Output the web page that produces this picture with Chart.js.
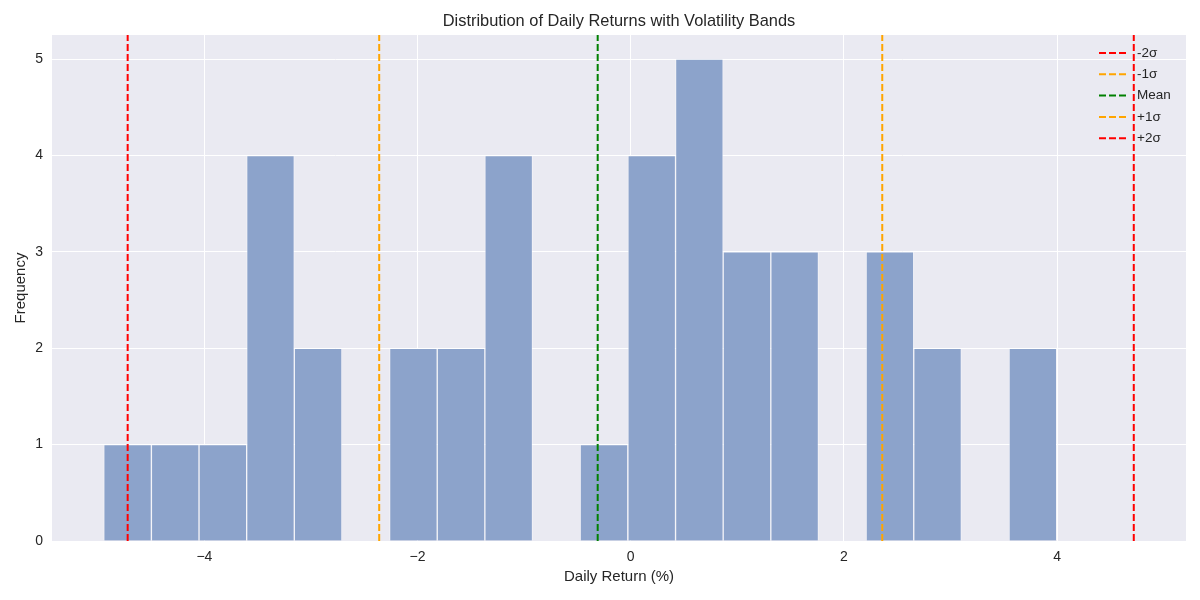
<!DOCTYPE html>
<html>
<head>
<meta charset="utf-8">
<script src="https://cdn.jsdelivr.net/npm/chart.js@4/dist/chart.umd.min.js"></script>
<style>
  body { margin: 0; background: #fff; }
  #wrap { width: 1200px; height: 600px; }
</style>
</head>
<body>
<div id="wrap"><canvas id="grafica" width="1200" height="600"></canvas></div>
<script>
// histogram bins (centres, %) and counts
var binCenters = [-4.721, -4.274, -3.827, -3.380, -2.933, -2.486, -2.039, -1.592, -1.145, -0.698,
                  -0.251, 0.197, 0.644, 1.091, 1.538, 1.985, 2.432, 2.879, 3.326, 3.773];
var binCounts  = [1, 1, 1, 4, 2, 0, 2, 2, 4, 0,
                  1, 4, 5, 3, 3, 0, 3, 2, 0, 2];

// volatility bands
var bandLabels = ["-2σ", "-1σ", "Mean", "+1σ", "+2σ"];
var bandValues = [-4.72, -2.36, -0.31, 2.36, 4.72];
var bandColors = ["#ff0000", "#ffa500", "#008000", "#ffa500", "#ff0000"];

var xTicks = [-4, -2, 0, 2, 4];
var yTicks = [0, 1, 2, 3, 4, 5];

var xMin = -5.43, xMax = 5.21, yMax = 5.25;
var txt = "#262626";
var fuente = "'Liberation Sans', Arial, sans-serif";

var datasets = [{
    type: "bar",
    label: "hist",
    data: binCenters.map(function(c, i){ return {x: c, y: binCounts[i]}; }),
    backgroundColor: "#8ca3cb",
    borderColor: "rgba(255,255,255,0.45)",
    borderWidth: 1,
    barPercentage: 1,
    categoryPercentage: 1,
    order: 2
}];

for (var i = 0; i < bandValues.length; i++) {
    datasets.push({
        type: "line",
        label: bandLabels[i],
        data: [{x: bandValues[i], y: 0}, {x: bandValues[i], y: yMax}],
        borderColor: bandColors[i],
        borderWidth: 2,
        borderDash: [7, 3],
        pointRadius: 0,
        fill: false,
        order: 1
    });
}

var fondo = {
    id: "fondo",
    beforeDraw: function(chart){
        var a = chart.chartArea, ctx = chart.ctx;
        ctx.save();
        ctx.fillStyle = "#eaeaf2";
        ctx.fillRect(a.left, a.top, a.right - a.left, a.bottom - a.top);
        ctx.restore();
    },
    afterDraw: function(chart){
        var a = chart.chartArea, ctx = chart.ctx;
        ctx.save();
        ctx.fillStyle = txt;
        ctx.textAlign = "center";
        ctx.textBaseline = "middle";
        ctx.font = "16.4px " + fuente;
        ctx.fillText("Distribution of Daily Returns with Volatility Bands", (a.left + a.right) / 2, 21);
        ctx.font = "15px " + fuente;
        ctx.fillText("Daily Return (%)", (a.left + a.right) / 2, 577);
        ctx.save();
        ctx.translate(21, (a.top + a.bottom) / 2);
        ctx.rotate(-Math.PI / 2);
        ctx.fillText("Frequency", 0, 0);
        ctx.restore();

        // legend inside the plot, top right
        ctx.font = "13.5px " + fuente;
        ctx.textAlign = "left";
        var y0 = 53;
        chart.data.datasets.forEach(function(ds){
            if (ds.type !== "line") return;
            ctx.strokeStyle = ds.borderColor;
            ctx.lineWidth = 2;
            ctx.setLineDash([7, 3]);
            ctx.beginPath();
            ctx.moveTo(1099, y0);
            ctx.lineTo(1127, y0);
            ctx.stroke();
            ctx.setLineDash([]);
            ctx.fillStyle = txt;
            ctx.fillText(ds.label, 1137, y0);
            y0 += 21.3;
        });
        ctx.restore();
    }
};

new Chart(document.getElementById("grafica").getContext("2d"), {
    type: "bar",
    data: { datasets: datasets },
    options: {
        responsive: false,
        animation: false,
        layout: { padding: { left: 0, right: 14, top: 35, bottom: 0 } },
        plugins: {
            legend: { display: false },
            title: { display: false },
            tooltip: { enabled: false }
        },
        scales: {
            x: {
                type: "linear",
                min: xMin,
                max: xMax,
                offset: false,
                afterFit: function(s){ s.height = 59; },
                afterBuildTicks: function(s){ s.ticks = xTicks.map(function(v){ return {value: v}; }); },
                grid: { color: "#ffffff", lineWidth: 1, drawTicks: false, offset: false },
                border: { display: false },
                ticks: {
                    color: txt,
                    padding: 8,
                    font: { family: fuente, size: 14 },
                    callback: function(v){ return String(v).replace("-", "\u2212"); }
                }
            },
            y: {
                min: 0,
                max: yMax,
                afterFit: function(s){ s.width = 52; },
                afterBuildTicks: function(s){ s.ticks = yTicks.map(function(v){ return {value: v}; }); },
                grid: { color: "#ffffff", lineWidth: 1, drawTicks: false },
                border: { display: false },
                ticks: {
                    color: txt,
                    padding: 9,
                    font: { family: fuente, size: 14 }
                }
            }
        }
    },
    plugins: [fondo]
});
</script>
</body>
</html>
